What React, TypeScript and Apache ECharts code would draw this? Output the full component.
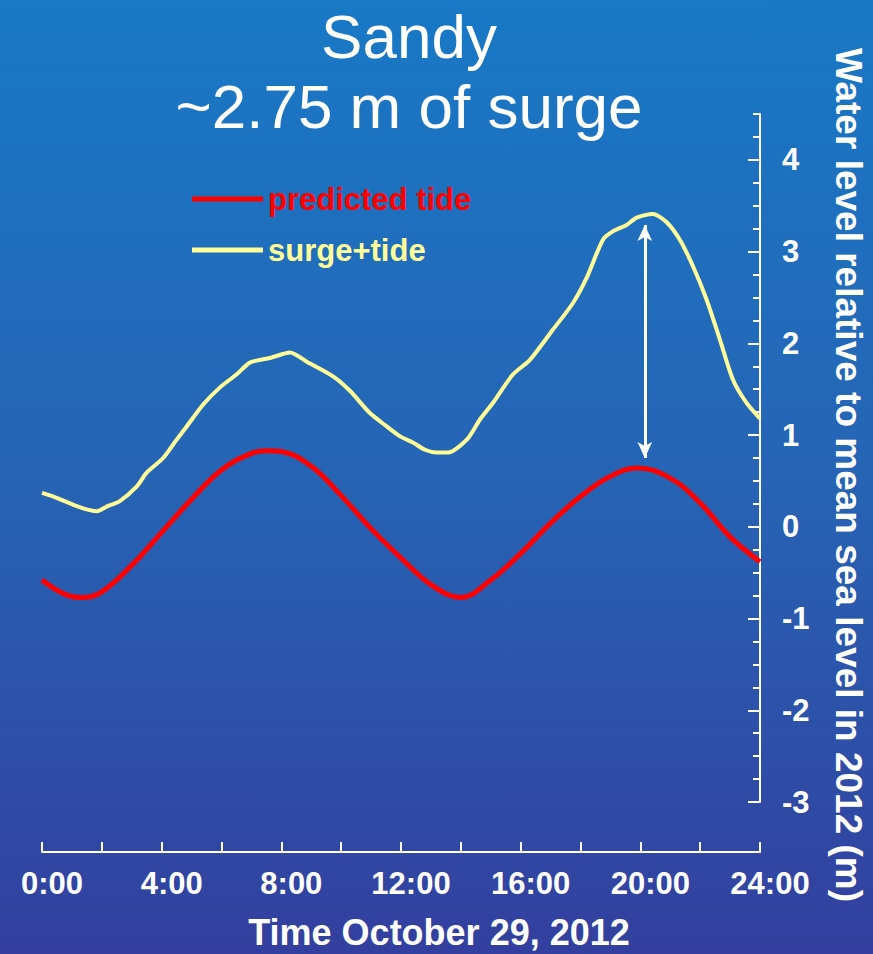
import React, { useEffect, useRef } from "react";
import * as echarts from "echarts";

const titleLines = ["Sandy", "~2.75 m of surge"];
const seriesNames = ["predicted tide", "surge+tide"];

const tideHours = [0, 1, 1.4, 2, 3, 4, 5, 6, 7, 7.5, 8, 9, 10, 11, 12, 13, 14, 15, 16, 17, 18, 19, 19.9, 21, 22, 23, 24];
const tideLevels = [-0.58, -0.76, -0.77, -0.71, -0.42, -0.06, 0.3, 0.62, 0.8, 0.83, 0.82, 0.66, 0.34, -0.02, -0.34, -0.63, -0.77, -0.58, -0.29, 0.04, 0.33, 0.55, 0.64, 0.53, 0.26, -0.11, -0.38];

const surgeHours = [0, 0.38, 1.05, 1.49, 1.83, 2.16, 2.6, 3.17, 3.5, 4.05, 4.5, 4.83, 5.38, 5.95, 6.5, 6.95, 7.62, 8.29, 8.85, 9.73, 10.3, 10.96, 11.5, 12.0, 12.4, 12.8, 13.2, 13.57, 14.2, 14.64, 15.07, 15.74, 16.31, 17.08, 17.75, 18.2, 18.75, 19.08, 19.54, 19.88, 20.42, 20.88, 21.32, 21.76, 22.21, 22.66, 23.1, 23.55, 24];
const surgeLevels = [0.37, 0.33, 0.24, 0.19, 0.17, 0.22, 0.28, 0.44, 0.59, 0.75, 0.95, 1.09, 1.33, 1.52, 1.66, 1.79, 1.84, 1.9, 1.8, 1.64, 1.48, 1.24, 1.1, 0.98, 0.92, 0.84, 0.81, 0.81, 0.95, 1.17, 1.35, 1.66, 1.82, 2.15, 2.44, 2.71, 3.13, 3.22, 3.29, 3.37, 3.41, 3.32, 3.13, 2.84, 2.48, 2.04, 1.6, 1.35, 1.18];

// surge arrow: [hour, top level, bottom level]
const arrowHour = 20.15;
const arrowLevels = [3.29, 0.75];

const xLabelValues = [0, 4, 8, 12, 16, 20, 24];
const xTickLabels = ["0:00", "4:00", "8:00", "12:00", "16:00", "20:00", "24:00"];
const yMajorTicks = [-3, -2, -1, 0, 1, 2, 3, 4];
const yMinorTicks = [-2.75, -2.5, -2.25, -1.75, -1.5, -1.25, -0.75, -0.5, -0.25, 0.25, 0.5, 0.75, 1.25, 1.5, 1.75, 2.25, 2.5, 2.75, 3.25, 3.5, 3.75, 4.25, 4.5];

const xName = "Time October 29, 2012";
const yName = "Water level relative to mean sea level in 2012 (m)";

const FONT = "'Liberation Sans', Arial, Helvetica, sans-serif";

export default function App() {
  const ref = useRef<HTMLDivElement>(null);

  useEffect(() => {
    if (!ref.current) return;
    const chart = echarts.init(ref.current, undefined, { renderer: "svg" });
    const tideData = tideHours.map((h, i) => [h, tideLevels[i]]);
    const surgeData = surgeHours.map((h, i) => [h, surgeLevels[i]]);

    const titleStyle = {
      color: "#ffffff",
      fontSize: 62,
      fontWeight: "normal",
      lineHeight: 62,
      fontFamily: FONT,
    };

    chart.setOption({
      animation: false,
      backgroundColor: new echarts.graphic.LinearGradient(0, 0, 0, 1, [
        { offset: 0, color: "#1879c6" },
        { offset: 0.5, color: "#2664b4" },
        { offset: 1, color: "#333f9e" },
      ]),
      textStyle: { fontFamily: FONT },
      title: [
        {
          text: titleLines[0],
          left: 409,
          top: 5,
          textAlign: "center",
          padding: 0,
          textStyle: titleStyle,
        },
        {
          text: titleLines[1],
          left: 409,
          top: 75,
          textAlign: "center",
          padding: 0,
          textStyle: titleStyle,
        },
      ],
      legend: {
        orient: "vertical",
        left: 192,
        top: 181,
        itemWidth: 71,
        itemHeight: 5,
        itemGap: 15,
        icon: "rect",
        padding: 0,
        textStyle: { fontSize: 31, fontWeight: "bold", lineHeight: 36, fontFamily: FONT },
        data: [
          { name: seriesNames[0], textStyle: { color: "#ff0000" } },
          { name: seriesNames[1], textStyle: { color: "#ffff99" } },
        ],
      },
      grid: {
        left: 42,
        right: 113,
        top: 114,
        bottom: 152,
        containLabel: false,
        outerBoundsMode: "none",
      },
      xAxis: {
        type: "value",
        min: 0,
        max: 24,
        interval: 2,
        offset: 50,
        position: "bottom",
        name: xName,
        nameLocation: "middle",
        nameGap: 62,
        nameTextStyle: {
          color: "#ffffff",
          fontSize: 36,
          fontWeight: "bold",
          fontFamily: FONT,
          padding: [0, 0, 0, 76],
        },
        splitLine: { show: false },
        axisLine: { show: true, onZero: false, lineStyle: { color: "#ffffff", width: 2 } },
        axisTick: { show: true, inside: true, length: 10, lineStyle: { color: "#ffffff", width: 2 } },
        axisLabel: {
          customValues: xLabelValues,
          formatter: (v: number) => xTickLabels[xLabelValues.indexOf(v)] ?? "",
          color: "#ffffff",
          fontSize: 31,
          fontWeight: "bold",
          fontFamily: FONT,
          margin: 16,
          padding: [0, 0, 0, 20],
        },
      },
      yAxis: [
        {
          type: "value",
          position: "right",
          min: -3,
          max: 4.5,
          name: yName,
          nameLocation: "middle",
          nameRotate: -90,
          nameGap: 70,
          nameTextStyle: {
            color: "#ffffff",
            fontSize: 37,
            fontWeight: "bold",
            fontFamily: FONT,
            padding: [0, 0, 0, 34],
          },
          splitLine: { show: false },
          axisLine: { show: true, onZero: false, lineStyle: { color: "#ffffff", width: 2 } },
          axisTick: {
            show: true,
            inside: true,
            length: 12,
            customValues: yMajorTicks,
            lineStyle: { color: "#ffffff", width: 2 },
          },
          axisLabel: {
            customValues: yMajorTicks,
            color: "#ffffff",
            fontSize: 31,
            fontWeight: "bold",
            fontFamily: FONT,
            margin: 22,
            padding: [6, 0, 0, 0],
          },
        },
        {
          type: "value",
          position: "right",
          min: -3,
          max: 4.5,
          splitLine: { show: false },
          axisLine: { show: false, onZero: false },
          axisTick: {
            show: true,
            inside: true,
            length: 7,
            customValues: yMinorTicks,
            lineStyle: { color: "#ffffff", width: 2 },
          },
          axisLabel: { show: false },
        },
      ],
      series: [
        {
          name: seriesNames[0],
          type: "line",
          data: tideData,
          color: "#ff0000",
          showSymbol: false,
          symbol: "none",
          smooth: 0.4,
          lineStyle: { width: 5, color: "#ff0000" },
          z: 3,
        },
        {
          name: seriesNames[1],
          type: "line",
          data: surgeData,
          color: "#ffff99",
          showSymbol: false,
          symbol: "none",
          smooth: 0.25,
          lineStyle: { width: 4, color: "#ffff99" },
          z: 2,
          markLine: {
            silent: true,
            symbol: ["arrow", "arrow"],
            symbolSize: [11, 16],
            label: { show: false },
            lineStyle: { color: "#ffffff", width: 3, type: "solid" },
            data: [
              [
                { coord: [arrowHour, arrowLevels[0]] },
                { coord: [arrowHour, arrowLevels[1]] },
              ],
            ],
          },
        },
      ],
    });

    return () => chart.dispose();
  }, []);

  return (
    <div
      ref={ref}
      style={{ position: "fixed", left: 0, top: 0, width: 873, height: 954 }}
    />
  );
}
